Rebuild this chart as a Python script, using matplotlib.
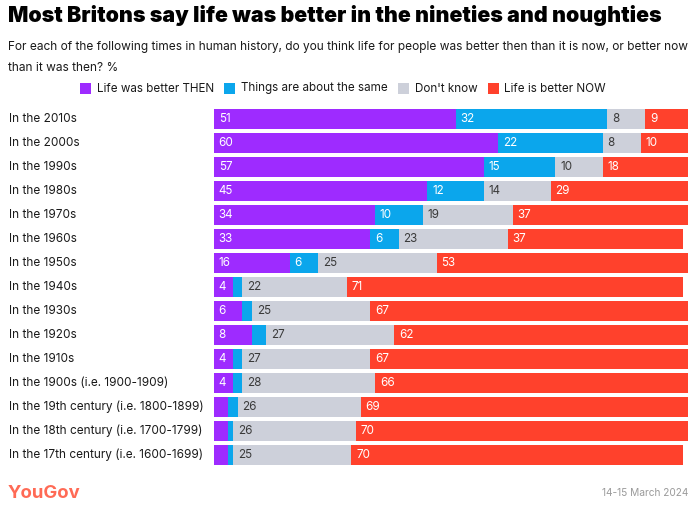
import matplotlib
matplotlib.use("Agg")
import matplotlib.pyplot as plt
from matplotlib.transforms import blended_transform_factory
from matplotlib.patches import Rectangle

plt.rcParams['font.family'] = ['Inter', 'DejaVu Sans']

categories = [
    "In the 2010s", "In the 2000s", "In the 1990s", "In the 1980s",
    "In the 1970s", "In the 1960s", "In the 1950s", "In the 1940s",
    "In the 1930s", "In the 1920s", "In the 1910s", "In the 1900s (i.e. 1900-1909)",
    "In the 19th century (i.e. 1800-1899)", "In the 18th century (i.e. 1700-1799)",
    "In the 17th century (i.e. 1600-1699)",
]
better_then = [51, 60, 57, 45, 34, 33, 16, 4, 6, 8, 4, 4, 3, 3, 3]
about_same = [32, 22, 15, 12, 10, 6, 6, 2, 2, 3, 2, 2, 2, 1, 1]
dont_know = [8, 8, 10, 14, 19, 23, 25, 22, 25, 27, 27, 28, 26, 26, 25]
better_now = [9, 10, 18, 29, 37, 37, 53, 71, 67, 62, 67, 66, 69, 70, 70]

series = [
    ("Life was better THEN", better_then, "#9E2BFF", "white"),
    ("Things are about the same", about_same, "#0BA6EC", "white"),
    ("Don't know", dont_know, "#CDD0DA", "#3a3a3a"),
    ("Life is better NOW", better_now, "#FF412C", "white"),
]

W, H = 700, 518
fig = plt.figure(figsize=(W / 100, H / 100), dpi=100)

def fx(px):
    return px / W

def fy(py):
    return 1 - py / H

ax = fig.add_axes([fx(214), fy(467), fx(688) - fx(214), fy(107) - fy(467)])
ypos = list(range(len(categories)))
left = [0] * len(categories)
for name, vals, col, tcol in series:
    ax.barh(ypos, vals, left=left, height=0.83, color=col, linewidth=0)
    for i, v in enumerate(vals):
        if v >= 4:
            ax.text(left[i] + 1.0, i, str(v), va="center", ha="left",
                    color=tcol, fontsize=8.4)
    left = [l + v for l, v in zip(left, vals)]

ax.set_xlim(0, 100)
ax.set_ylim(len(categories) - 0.5, -0.5)
ax.axis("off")

tr = blended_transform_factory(fig.transFigure, ax.transData)
for i, c in enumerate(categories):
    ax.text(fx(9), i, c, transform=tr, va="center", ha="left",
            fontsize=8.5, color="#1a1a1a")

# Title and subtitle
fig.text(fx(8), fy(15), "Most Britons say life was better in the nineties and noughties",
         fontsize=15.4, fontweight="black", ha="left", va="center", color="black")
fig.text(fx(8), fy(47), "For each of the following times in human history, do you think life for people was better then than it is now, or better now",
         fontsize=8.55, ha="left", va="center", color="#1a1a1a")
fig.text(fx(8), fy(68), "than it was then? %",
         fontsize=8.55, ha="left", va="center", color="#1a1a1a")

# Legend
x = 80
for name, vals, col, tcol in series:
    fig.patches.append(Rectangle((fx(x), fy(94)), fx(11), fy(83) - fy(94),
                                 transform=fig.transFigure, color=col, linewidth=0))
    t = fig.text(fx(x + 17), fy(88.5), name, fontsize=8.4, ha="left", va="center",
                 color="#1a1a1a")
    fig.canvas.draw()
    bb = t.get_window_extent()
    x = bb.x1 + 10

# Footer
fig.text(fx(8), fy(493), "YouGov", fontsize=13.3, fontweight="bold", color="#FF6A55",
         ha="left", va="center")
fig.text(fx(688), fy(493), "14-15 March 2024", fontsize=7.3, color="#9a9a9a",
         ha="right", va="center")

fig.savefig("out.png", dpi=100)
